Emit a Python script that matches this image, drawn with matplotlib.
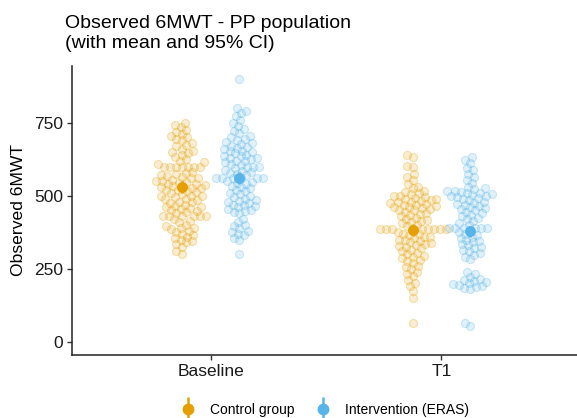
import numpy as np
import matplotlib
matplotlib.use("Agg")
import matplotlib.pyplot as plt
from matplotlib.lines import Line2D
from matplotlib.legend_handler import HandlerTuple

plt.rcParams['font.family'] = ['Liberation Sans', 'DejaVu Sans']

categories = ["Baseline", "T1"]
groups = ["Control group", "Intervention (ERAS)"]
colors = ["#E69F00", "#56B4E9"]

control_baseline = [750, 742, 735, 725, 720, 712, 705, 700, 695, 690, 682, 675, 670, 662, 655, 650,
                    645, 640, 632, 625, 620, 615, 610,
                    600, 600, 600, 600, 600, 600, 600,
                    580, 578, 575, 570, 568, 565, 560, 560, 555, 552, 550, 548, 545, 540, 540, 538,
                    535, 530, 530, 528, 525, 520, 520, 515, 512, 510, 505, 500, 500, 498, 495, 490,
                    488, 485, 480, 478, 475, 470, 465, 462, 460, 458, 455, 450, 448, 445, 440,
                    430, 430, 430, 430, 430, 430,
                    420, 415, 410, 400, 395, 390, 388, 385, 380, 375, 370, 365, 360, 355, 350, 345,
                    340, 335, 325, 310, 300]
interv_baseline = [900, 800, 792, 785, 775, 760, 748, 740, 730, 722, 715, 705, 700, 695, 690, 685,
                   680, 678, 672, 668, 665, 660, 655, 652, 650, 645, 640, 638, 635, 630, 628, 625,
                   620, 618, 615, 610, 605, 600, 600, 598, 595, 590, 585, 580, 578, 575, 570,
                   560, 560, 560, 560, 560, 560,
                   550, 548, 545, 540, 535, 530, 525, 520, 515, 510, 505, 500, 495, 490, 485, 482,
                   480, 475, 470, 468, 465, 460, 455, 450, 448, 445, 440,
                   420, 410, 400, 395, 390, 380, 375, 370, 365, 355, 350, 300]
control_t1 = [640, 632, 602, 598, 575, 565, 555, 540, 530, 525, 518, 512, 508, 505, 500, 498, 495,
              492, 490, 488, 485, 482, 480, 478, 475, 472, 470, 468, 465, 462, 460, 458, 455, 452,
              450, 445, 440, 438, 435, 430, 425, 420, 418, 415, 410, 405, 400, 395,
              385, 385, 385, 385, 385, 385, 385, 385, 385,
              375, 370, 368, 365, 360, 358, 355, 350, 348, 345, 340, 338, 335, 330, 328, 325, 320,
              315, 310, 305, 300, 295, 290, 285, 280, 275, 268, 260, 255, 248, 240, 232, 225, 210,
              200, 190, 172, 150, 62]
interv_t1 = [632, 622, 612, 595, 588, 575, 565, 555, 545, 530, 525, 522, 518, 515, 512, 510, 508,
             505, 502, 500, 498, 495, 492, 490, 485, 480, 475, 472, 470, 465, 460, 458, 455, 450,
             445, 440, 435, 430, 425, 420, 415, 405, 400,
             390, 390, 390, 390, 390, 390,
             380, 375, 370, 365, 360, 355, 350, 345, 340, 335, 330, 325, 320, 315, 310, 305, 298,
             290, 282,
             240, 232, 222, 215, 212, 208, 205, 200, 198, 195, 190, 188, 185, 180, 62, 55]

# means and 95% CI per [category][group]
means = [[530, 560], [382, 378]]
ci_low = [[510, 540], [362, 358]]
ci_high = [[550, 580], [402, 398]]

data = [[control_baseline, interv_baseline], [control_t1, interv_t1]]

W, H = 577, 418
fig = plt.figure(figsize=(W / 100, H / 100), dpi=100)
left, right, top, bottom = 72, 580, 66, 354.7
ax = fig.add_axes([left / W, 1 - bottom / H, (right - left) / W, (bottom - top) / H])
ax.set_xlim(0.4, 2.6)
ax.set_ylim(-45, 945)

xscale = (right - left) / 2.2      # px per x unit
yscale = (bottom - top) / 990.0    # px per y unit
spacing = 6.0                      # swarm spacing in px


def swarm(values):
    ys = np.asarray(values, float) * yscale
    order = np.argsort(ys, kind="stable")
    placed_x, placed_y = [], []
    xs = np.zeros(len(ys))
    for i in order:
        y = ys[i]
        cands = [0.0]
        for px, py in zip(placed_x, placed_y):
            dy = abs(y - py)
            if dy < spacing:
                dx = np.sqrt(spacing ** 2 - dy ** 2)
                cands += [px + dx + 1e-6, px - dx - 1e-6]
        cands = sorted(cands, key=lambda c: (abs(c), c))
        for c in cands:
            ok = True
            for px, py in zip(placed_x, placed_y):
                if (c - px) ** 2 + (y - py) ** 2 < spacing ** 2 - 1e-6:
                    ok = False
                    break
            if ok:
                xs[i] = c
                break
        placed_x.append(xs[i])
        placed_y.append(y)
    return xs / xscale

dodge = 0.125
for ci, cat in enumerate(categories):
    for gi in range(2):
        center = ci + 1 + (-dodge if gi == 0 else dodge)
        vals = data[ci][gi]
        offs = swarm(vals)
        ax.scatter(center + offs, vals, s=34, facecolor=matplotlib.colors.to_rgba(colors[gi], 0.18),
                   edgecolor=matplotlib.colors.to_rgba(colors[gi], 0.28), linewidth=0.8, zorder=2)
        ax.vlines(center, ci_low[ci][gi], ci_high[ci][gi], color=colors[gi], lw=1.8, zorder=3)
        ax.scatter([center], [means[ci][gi]], s=62, color=colors[gi], zorder=4, linewidth=0)

ax.set_xticks([1, 2])
ax.set_xticklabels(categories)
ax.set_yticks([0, 250, 500, 750])
for s in ["top", "right"]:
    ax.spines[s].set_visible(False)
for s in ["left", "bottom"]:
    ax.spines[s].set_linewidth(1.1)
    ax.spines[s].set_color("#222222")
ax.tick_params(axis="both", length=3.5, width=1.0, color="#333333", labelsize=12.5,
               labelcolor="#1a1a1a", pad=3)
ax.set_ylabel("Observed 6MWT", fontsize=12.6, labelpad=6)

fig.text(65 / W, 1 - 15 / H, "Observed 6MWT - PP population\n(with mean and 95% CI)",
         ha="left", va="top", fontsize=14, linespacing=1.22)

handles = [(Line2D([], [], color=c, marker="|", markersize=17, markeredgewidth=1.8, lw=0),
            Line2D([], [], color=c, marker="o", markersize=7.5, lw=0)) for c in colors]
leg = fig.legend(handles, groups, loc="center", bbox_to_anchor=(325 / W, 1 - 410 / H), ncol=2,
                 frameon=False, fontsize=10, handlelength=1.0, handletextpad=1.1, columnspacing=1.5,
                 handler_map={tuple: HandlerTuple(ndivide=1)})

fig.savefig("out.png", dpi=100)
